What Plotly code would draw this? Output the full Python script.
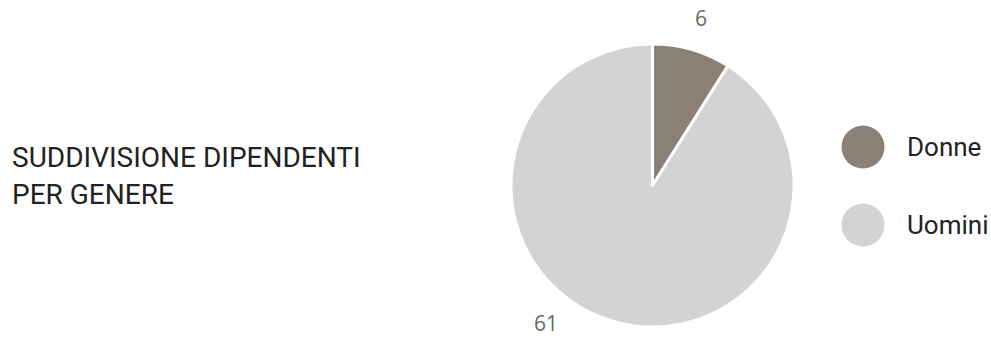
import math
import plotly.graph_objects as go

categories = ["Donne", "Uomini"]
values = [6, 61]
colors = ["#8B8076", "#D3D3D3"]
title_lines = ["SUDDIVISIONE DIPENDENTI", "PER GENERE"]

W, H = 991, 338
# pie geometry (pixels)
CX, CY, R = 652.5, 185.5, 141.5
LABEL_R = 174          # distance of value labels from pie centre
LABEL_YMIN, LABEL_YMAX = 14, 323

fig = go.Figure()

fig.add_trace(go.Pie(
    labels=categories,
    values=values,
    marker=dict(colors=colors, line=dict(color="white", width=3)),
    sort=False,
    direction="clockwise",
    rotation=0,
    textinfo="none",
    showlegend=False,
    hoverinfo="label+value+percent",
    domain=dict(x=[(CX - R) / W, (CX + R) / W],
                y=[1 - (CY + R) / H, 1 - (CY - R) / H]),
))

annotations = []

# value labels placed outside each slice (mid-angle, kept inside the chart)
total = sum(values)
start = 0.0
for v in values:
    mid = start + v / total * 360 / 2
    start += v / total * 360
    th = math.radians(mid)
    y = CY - LABEL_R * math.cos(th)
    if y > LABEL_YMAX or y < LABEL_YMIN:
        lim = LABEL_YMAX if y > LABEL_YMAX else LABEL_YMIN
        c = (CY - lim) / LABEL_R
        phi = math.acos(max(-1, min(1, c)))
        th = phi if math.sin(th) >= 0 else -phi
        y = CY - LABEL_R * math.cos(th)
    x = CX + LABEL_R * math.sin(th)
    annotations.append(dict(
        text=str(v), xref="paper", yref="paper",
        x=x / W, y=1 - y / H, xanchor="center", yanchor="middle",
        showarrow=False,
        font=dict(family="Open Sans", size=21, color="#666666"),
    ))

# custom legend with large circles
fig.add_trace(go.Scatter(
    x=[0] * len(categories),
    y=list(range(len(categories) - 1, -1, -1)),
    mode="markers",
    marker=dict(size=43, color=colors),
    xaxis="x2", yaxis="y2",
    showlegend=False,
    hoverinfo="skip",
    cliponaxis=False,
))
for i, c in enumerate(categories):
    annotations.append(dict(
        text=c, xref="x2", yref="y2", x=0, y=len(categories) - 1 - i,
        xanchor="left", yanchor="middle", xshift=42, showarrow=False,
        font=dict(family="Roboto", size=26, color="#222222"),
    ))

for i, line in enumerate(title_lines):
    annotations.append(dict(
        text=line, xref="paper", yref="paper",
        x=10 / W, y=1 - (157 + 38 * i) / H,
        xanchor="left", yanchor="middle", showarrow=False,
        font=dict(family="Roboto", size=28, color="#222222"),
    ))

fig.update_layout(
    width=W, height=H,
    margin=dict(l=0, r=0, t=0, b=0),
    paper_bgcolor="white", plot_bgcolor="white",
    annotations=annotations,
    xaxis2=dict(domain=[0.85, 1.0], range=[-0.2, 1.24], visible=False, fixedrange=True),
    yaxis2=dict(domain=[0, 1], range=[-113 / 78, 1 + 147 / 78], visible=False, fixedrange=True),
)

fig.write_html("out.html")
